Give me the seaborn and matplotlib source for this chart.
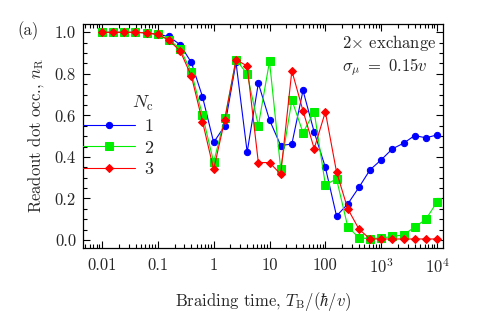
import numpy as np
import pandas as pd
import matplotlib
matplotlib.use("Agg")
import matplotlib.pyplot as plt
import seaborn as sns
from matplotlib.ticker import MultipleLocator, LogLocator, NullFormatter

# ---- data ----
log_tb = [-2.0 + 0.2 * k for k in range(31)]
braid_time = [10 ** v for v in log_tb]
n1 = [1.0, 1.0, 1.0, 1.0, 0.998, 0.99, 0.98, 0.94, 0.855, 0.69, 0.47,
      0.55, 0.855, 0.423, 0.755, 0.578, 0.455, 0.462, 0.72, 0.52, 0.35,
      0.116, 0.173, 0.253, 0.338, 0.386, 0.439, 0.466, 0.503, 0.492, 0.506]
n2 = [1.0, 1.0, 1.0, 1.0, 0.997, 0.99, 0.965, 0.92, 0.81, 0.60, 0.375,
      0.587, 0.868, 0.80, 0.55, 0.86, 0.343, 0.674, 0.517, 0.617, 0.266,
      0.294, 0.065, 0.011, 0.006, 0.01, 0.017, 0.025, 0.062, 0.10, 0.183]
n3 = [1.0, 1.0, 1.0, 1.0, 0.997, 0.99, 0.962, 0.91, 0.79, 0.57, 0.34,
      0.58, 0.868, 0.838, 0.373, 0.373, 0.317, 0.815, 0.622, 0.44, 0.617,
      0.328, 0.151, 0.053, 0.005, 0.005, 0.005, 0.005, 0.005, 0.005, 0.005]
series_labels = ["1", "2", "3"]
xtick_vals = [0.01, 0.1, 1, 10, 100, 1000, 10000]
xtick_labels = ["0.01", "0.1", "1", "10", "100", r"$10^3$", r"$10^4$"]
ytick_vals = [0.0, 0.2, 0.4, 0.6, 0.8, 1.0]

df = pd.DataFrame({
    "T": braid_time * 3,
    "n": n1 + n2 + n3,
    "Nc": [series_labels[0]] * 31 + [series_labels[1]] * 31 + [series_labels[2]] * 31,
})

sns.set_style("ticks")
plt.rcParams["font.family"] = ["cmr10", "DejaVu Serif"]
plt.rcParams["mathtext.fontset"] = "cm"
plt.rcParams["axes.formatter.use_mathtext"] = True
plt.rcParams["axes.unicode_minus"] = False

fig = plt.figure(figsize=(4.87, 3.27), dpi=100)
ax = fig.add_axes([0.1704, 0.2425, 0.7393, 0.6841])

styles = {
    "1": dict(color="#0000ff", marker="o", ms=4.5),
    "2": dict(color="#00ee00", marker="s", ms=6),
    "3": dict(color="#ff0000", marker="D", ms=4.2),
}
for lab in series_labels:
    sub = df[df["Nc"] == lab]
    st = styles[lab]
    sns.lineplot(data=sub, x="T", y="n", ax=ax, color=st["color"],
                 marker=st["marker"], markersize=st["ms"],
                 markeredgecolor=st["color"], markerfacecolor=st["color"],
                 linewidth=0.8, label=lab, estimator=None, sort=False)

ax.set_xscale("log")
ax.set_xlim(10 ** -2.34, 10 ** 4.107)
ax.set_ylim(-0.037, 1.04)
ax.set_xticks(xtick_vals)
ax.set_xticklabels(xtick_labels)
ax.xaxis.set_minor_locator(LogLocator(base=10, subs=np.arange(2, 10) * 1.0, numticks=20))
ax.xaxis.set_minor_formatter(NullFormatter())
ax.set_yticks(ytick_vals)
ax.set_yticklabels([f"{v:.1f}" for v in ytick_vals])
ax.yaxis.set_minor_locator(MultipleLocator(0.05))
ax.tick_params(which="both", direction="in", top=True, right=True,
               labelsize=12, color="black", width=0.8)
ax.tick_params(axis="x", which="major", pad=7)
ax.tick_params(axis="y", which="major", pad=5)
ax.tick_params(which="major", length=5)
ax.tick_params(which="minor", length=3)
for s in ax.spines.values():
    s.set_color("black")
    s.set_linewidth(0.9)

ax.set_xlabel(r"Braiding time, $T_\mathrm{B}/(\hbar/v)$", fontsize=12, labelpad=10)
ax.set_ylabel(r"Readout dot occ., $n_\mathrm{R}$", fontsize=12, labelpad=6)

leg = ax.legend(title=r"$N_\mathrm{c}$", loc="upper left",
                bbox_to_anchor=(-0.035, 0.745), frameon=False, fontsize=13,
                title_fontsize=13, handlelength=2.9, handletextpad=0.5,
                labelspacing=0.32, borderpad=0.2)
leg._legend_box.align = "right"

ax.text(0.719, 0.915, r"2$\times$ exchange", transform=ax.transAxes,
        ha="left", va="center", fontsize=12)
ax.text(0.719, 0.808, r"$\sigma_\mu\ =\ 0.15v$", transform=ax.transAxes,
        ha="left", va="center", fontsize=12)
fig.text(0.058, 0.905, "(a)", fontsize=12, ha="center", va="center")

fig.savefig("out.png", dpi=100)
